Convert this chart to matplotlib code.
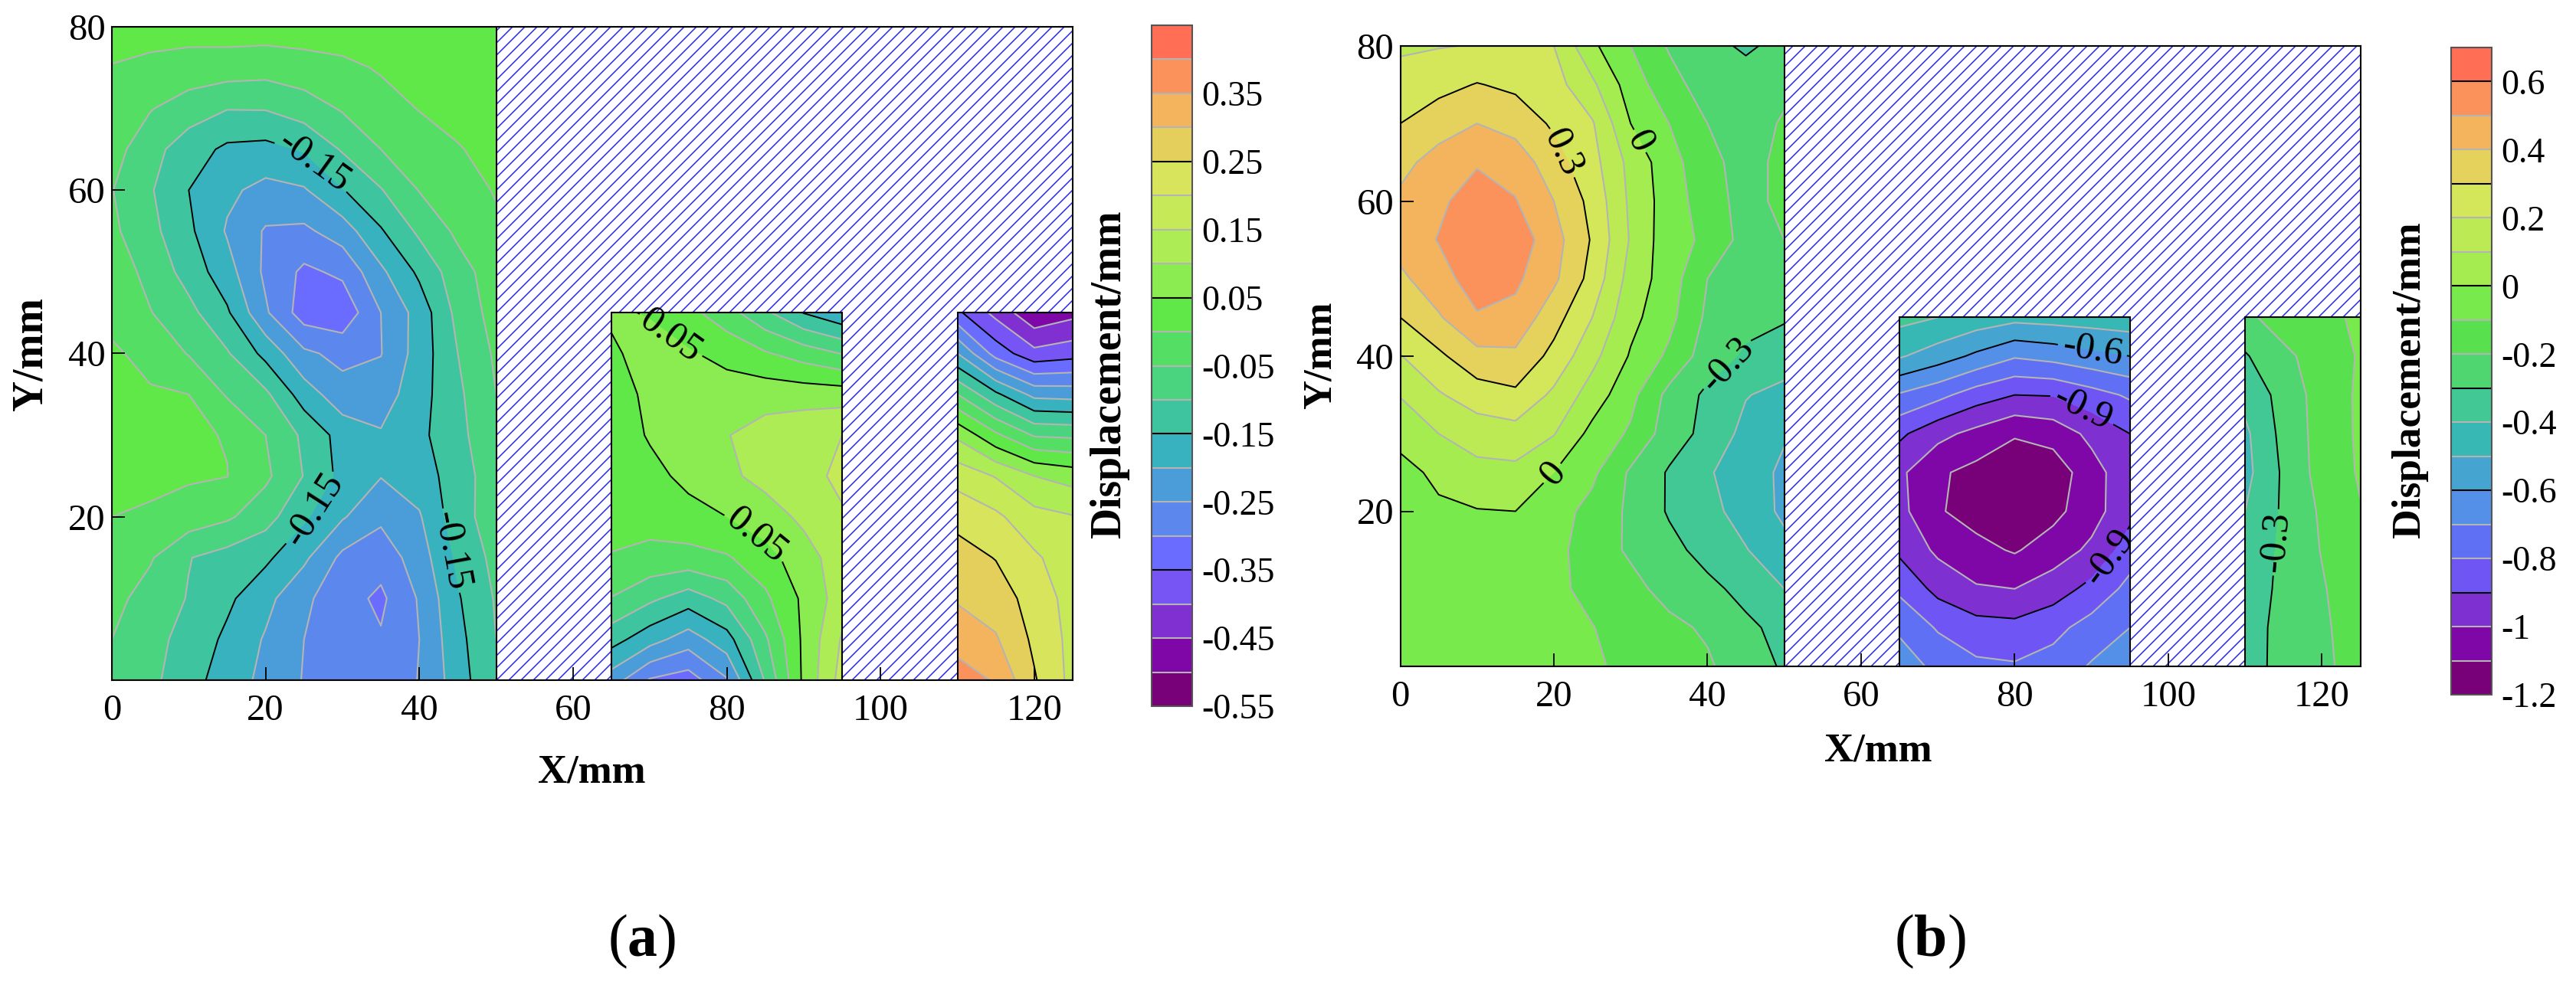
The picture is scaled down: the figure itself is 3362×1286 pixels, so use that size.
import numpy as np
import matplotlib
matplotlib.use("Agg")
import matplotlib.pyplot as plt
from matplotlib.patches import Rectangle

DPI = 96  # hatch tile follows the dpi, this gives the 8 px line spacing
PT = 100 / DPI  # sizes below were measured as points at 100 dpi

plt.rcParams["font.family"] = ["Liberation Serif", "DejaVu Serif"]
plt.rcParams["hatch.linewidth"] = 1.1 * PT
plt.rcParams["hatch.color"] = "#2a2ae6"
plt.rcParams["mathtext.fontset"] = "custom"
plt.rcParams["mathtext.bf"] = "Liberation Serif:bold"
plt.rcParams["mathtext.rm"] = "Liberation Serif"
plt.rcParams["contour.negative_linestyle"] = "solid"

FIG_W, FIG_H = 3362, 1286

# shared grid of the three slab regions, mm
x_left = [0, 5, 10, 15, 20, 25, 30, 35, 40, 45, 50]
y_left = [0, 5, 10, 15, 20, 25, 30, 35, 40, 45, 50, 55, 60, 65, 70, 75, 80]
x_mid = [65, 70, 75, 80, 85, 90, 95]
x_right = [110, 115, 120, 125]
y_low = [0, 5, 10, 15, 20, 25, 30, 35, 40, 45]

# (a) displacement, rows go from y=0 upward
a_left = [
    [-.065, -.088, -.130, -.175, -.213, -.253, -.270, -.280, -.248, -.175, -.100],
    [-.050, -.083, -.118, -.160, -.205, -.250, -.280, -.295, -.250, -.165, -.100],
    [-.035, -.070, -.103, -.140, -.185, -.240, -.280, -.310, -.245, -.155, -.095],
    [-.025, -.045, -.098, -.120, -.140, -.190, -.262, -.280, -.225, -.140, -.085],
    [.000, -.006, -.022, -.042, -.080, -.142, -.195, -.240, -.205, -.120, -.075],
    [.012, .010, .006, .001, -.040, -.102, -.165, -.198, -.175, -.125, -.070],
    [.012, .010, .006, -.002, -.050, -.110, -.170, -.195, -.162, -.115, -.060],
    [.010, .004, .000, -.055, -.090, -.175, -.230, -.225, -.170, -.110, -.050],
    [.006, -.012, -.053, -.095, -.165, -.240, -.265, -.252, -.178, -.100, -.042],
    [-.012, -.048, -.085, -.143, -.243, -.325, -.335, -.250, -.180, -.085, -.030],
    [-.022, -.065, -.120, -.180, -.260, -.310, -.290, -.210, -.140, -.070, -.025],
    [-.040, -.085, -.140, -.205, -.255, -.260, -.225, -.155, -.090, -.040, -.007],
    [-.048, -.095, -.150, -.190, -.215, -.205, -.153, -.103, -.048, -.018, .003],
    [-.030, -.082, -.127, -.160, -.165, -.145, -.095, -.050, -.025, -.003, .015],
    [-.022, -.047, -.075, -.098, -.097, -.075, -.045, -.020, .002, .015, .022],
    [-.002, -.012, -.020, -.025, -.030, -.020, -.012, .005, .015, .020, .025],
    [.020, .020, .020, .025, .025, .025, .030, .030, .030, .030, .030],
]
a_mid = [
    [-.225, -.305, -.325, -.255, -.095, .060, .170],
    [-.130, -.180, -.225, -.170, -.058, .060, .155],
    [-.052, -.090, -.125, -.085, -.010, .060, .125],
    [-.002, -.014, -.017, -.005, .030, .080, .125],
    [.012, .018, .033, .050, .078, .110, .145],
    [.018, .035, .063, .090, .115, .135, .160],
    [.020, .055, .080, .098, .120, .135, .150],
    [.025, .062, .068, .073, .080, .078, .076],
    [.040, .075, .055, .035, .005, -.023, -.052],
    [.060, .045, .015, -.030, -.090, -.152, -.190],
]
a_right = [
    [.375, .345, .255, .185],
    [.330, .305, .240, .185],
    [.295, .275, .230, .180],
    [.270, .248, .208, .170],
    [.235, .210, .167, .153],
    [.180, .147, .100, .080],
    [.090, .010, -.055, -.060],
    [-.050, -.140, -.215, -.220],
    [-.200, -.320, -.385, -.370],
    [-.340, -.415, -.490, -.465],
]

# (b) displacement, same layout
b_left = [
    [-.070, -.070, -.070, -.075, -.080, -.085, -.125, -.155, -.185, -.260, -.310],
    [-.070, -.070, -.070, -.075, -.080, -.097, -.140, -.175, -.215, -.280, -.330],
    [-.070, -.070, -.070, -.070, -.080, -.125, -.170, -.235, -.275, -.330, -.400],
    [-.070, -.055, -.045, -.045, -.070, -.150, -.215, -.270, -.335, -.395, -.470],
    [-.050, -.015, -.005, .000, -.060, -.130, -.220, -.310, -.370, -.440, -.520],
    [-.030, .020, .070, .075, .000, -.080, -.215, -.310, -.390, -.450, -.520],
    [.030, .100, .145, .160, .105, -.030, -.115, -.250, -.330, -.430, -.490],
    [.105, .190, .250, .280, .180, .055, -.070, -.230, -.320, -.395, -.430],
    [.195, .280, .370, .380, .270, .130, -.010, -.120, -.250, -.315, -.350],
    [.300, .390, .490, .470, .340, .200, .030, -.070, -.220, -.270, -.290],
    [.380, .460, .550, .520, .420, .265, .060, -.050, -.200, -.250, -.250],
    [.440, .505, .580, .560, .440, .290, .090, -.060, -.120, -.240, -.200],
    [.420, .480, .550, .505, .400, .270, .080, -.050, -.150, -.240, -.170],
    [.370, .440, .490, .460, .340, .235, .070, -.060, -.170, -.240, -.170],
    [.300, .355, .400, .360, .285, .210, .000, -.100, -.200, -.240, -.190],
    [.240, .270, .305, .280, .240, .120, -.050, -.160, -.250, -.270, -.220],
    [.185, .195, .205, .210, .200, .020, -.100, -.210, -.280, -.310, -.280],
]
b_mid = [
    [-.64, -.73, -.78, -.79, -.76, -.69, -.64],
    [-.72, -.81, -.86, -.87, -.83, -.76, -.70],
    [-.82, -.93, -.99, -1.00, -.95, -.87, -.77],
    [-.92, -1.02, -1.07, -1.11, -1.05, -.98, -.85],
    [-.97, -1.09, -1.14, -1.18, -1.13, -1.04, -.93],
    [-.98, -1.085, -1.13, -1.17, -1.16, -1.04, -.935],
    [-.88, -.97, -1.03, -1.09, -1.06, -.975, -.90],
    [-.71, -.77, -.85, -.90, -.895, -.84, -.785],
    [-.49, -.55, -.62, -.69, -.665, -.63, -.60],
    [-.37, -.40, -.44, -.47, -.46, -.45, -.44],
]
b_right = [
    [-.34, -.27, -.225, -.15],
    [-.35, -.265, -.22, -.14],
    [-.36, -.275, -.21, -.13],
    [-.37, -.28, -.195, -.12],
    [-.40, -.285, -.185, -.105],
    [-.43, -.285, -.16, -.09],
    [-.42, -.27, -.16, -.085],
    [-.37, -.265, -.155, -.085],
    [-.31, -.22, -.16, -.09],
    [-.22, -.16, -.13, -.08],
]

levels_a = np.round(np.arange(-0.55, 0.46, 0.05), 2)
levels_b = np.round(np.arange(-1.2, 0.71, 0.1), 1)
black_a = [-0.35, -0.15, 0.05, 0.25]
black_b = [-0.9, -0.6, -0.3, 0.0, 0.3, 0.6]

colors_a = ["#780078", "#7f07a7", "#8030d0", "#7755f5", "#6a6cff", "#5c88ee", "#4a9dd8",
            "#38b2be", "#3fc4a0", "#4bd480", "#55de64", "#60e848", "#8aec50", "#aeec55",
            "#c6ea57", "#d8e45b", "#e5cf5c", "#f4b45e", "#fb925c", "#ff6e55"]
colors_b = ["#780078", "#7f07a7", "#7f30d0", "#7055f5", "#6070f5", "#5590e8", "#45a5d0",
            "#38b8b5", "#42c895", "#50d670", "#58e04e", "#78ea4c", "#a4ec50", "#bcea55",
            "#d4e65a", "#e4d25c", "#f4b45e", "#fb925c", "#ff6e55"]

ticks_a = [-0.55, -0.45, -0.35, -0.25, -0.15, -0.05, 0.05, 0.15, 0.25, 0.35]
tick_labels_a = ["-0.55", "-0.45", "-0.35", "-0.25", "-0.15", "-0.05", "0.05", "0.15", "0.25", "0.35"]
ticks_b = [-1.2, -1.0, -0.8, -0.6, -0.4, -0.2, 0.0, 0.2, 0.4, 0.6]
tick_labels_b = ["-1.2", "-1", "-0.8", "-0.6", "-0.4", "-0.2", "0", "0.2", "0.4", "0.6"]

# where the black contours carry their labels
labels_a_left = [(25.7, 62.9), (26.0, 21.0), (43.8, 15.8)]
labels_a_mid = [(72.5, 42.0), (83.7, 17.5)]
labels_b_left = [(21.1, 66.2), (30.7, 67.5), (19.9, 24.8), (42.5, 39.0)]
labels_b_mid = [(90.1, 40.7), (89.0, 33.6), (91.9, 14.3)]
labels_b_right = [(113.9, 16.0)]


def px_axes(fig, left, top, right, bottom):
    return fig.add_axes([left / FIG_W, 1 - bottom / FIG_H,
                         (right - left) / FIG_W, (bottom - top) / FIG_H])


def px_text(fig, x, y, s, **kw):
    fig.text(x / FIG_W, 1 - y / FIG_H, s, ha="center", va="center", **kw)


def draw_region(ax, x, y, z, levels, colors, black, manual):
    cf = ax.contourf(x, y, z, levels=levels, colors=colors, zorder=1)
    grey = [v for v in levels if not np.isclose(v, black).any()]
    ax.contour(x, y, z, levels=grey, colors="#b4b4b4", linewidths=1.5 * PT, zorder=2)
    cs = ax.contour(x, y, z, levels=black, colors="black", linewidths=1.4 * PT, zorder=2)
    if manual:
        ax.clabel(cs, fmt="%g", manual=manual, inline=True, inline_spacing=4,
                  fontsize=36 * PT)
    ax.add_patch(Rectangle((x[0], y[0]), x[-1] - x[0], y[-1] - y[0], fill=False,
                           edgecolor="black", linewidth=1.5 * PT, zorder=2.2))
    return cf


def draw_chart(fig, box, bar_box, panels, levels, colors, black, ticks, tick_labels):
    ax = px_axes(fig, *box)
    ax.add_patch(Rectangle((50, 0), 75, 80, facecolor="white", edgecolor="#2a2ae6",
                           hatch="//", linewidth=0, zorder=0.5))
    cf = None
    for x, y, z, manual in panels:
        cf = draw_region(ax, x, y, z, levels, colors, black, manual)
    ax.set_xlim(0, 125)
    ax.set_ylim(0, 80)
    ax.set_xticks([0, 20, 40, 60, 80, 100, 120])
    ax.set_yticks([20, 40, 60, 80])
    ax.set_axisbelow(False)
    ax.tick_params(axis="both", direction="in", length=12 * PT, width=1.3 * PT,
                   labelsize=35 * PT)
    ax.tick_params(axis="x", pad=13 * PT)
    ax.tick_params(axis="y", pad=6 * PT)
    for spine in ax.spines.values():
        spine.set_linewidth(1.5 * PT)

    cax = px_axes(fig, *bar_box)
    cb = fig.colorbar(cf, cax=cax)
    cb.set_ticks(ticks, labels=tick_labels)
    cax.tick_params(length=0, pad=9 * PT, labelsize=33 * PT)
    cax.minorticks_off()
    cb.outline.set_edgecolor("#555555")
    cb.outline.set_linewidth(1.5 * PT)
    inner = levels[1:-1]
    cax.hlines([v for v in inner if not np.isclose(v, black).any()], 0, 1,
               colors="#b4b4b4", linewidth=1.5 * PT)
    cax.hlines([v for v in inner if np.isclose(v, black).any()], 0, 1,
               colors="black", linewidth=1.5 * PT)


fig = plt.figure(figsize=(FIG_W / DPI, FIG_H / DPI), dpi=DPI, facecolor="white")

draw_chart(fig, (146, 35, 1400, 888), (1503, 33, 1556, 922),
           [(x_left, y_left, a_left, labels_a_left),
            (x_mid, y_low, a_mid, labels_a_mid),
            (x_right, y_low, a_right, None)],
           levels_a, colors_a, black_a, ticks_a, tick_labels_a)
draw_chart(fig, (1827.5, 60, 3080.5, 870), (3199, 62, 3252, 907),
           [(x_left, y_left, b_left, labels_b_left),
            (x_mid, y_low, b_mid, labels_b_mid),
            (x_right, y_low, b_right, labels_b_right)],
           levels_b, colors_b, black_b, ticks_b, tick_labels_b)

px_text(fig, 772, 1008, "X/mm", fontsize=38 * PT, fontweight="bold")
px_text(fig, 2451, 981, "X/mm", fontsize=38 * PT, fontweight="bold")
px_text(fig, 41, 462, "Y/mm", rotation=90, fontsize=40 * PT, fontweight="bold")
px_text(fig, 1724, 464, "Y/mm", rotation=90, fontsize=38 * PT, fontweight="bold")
px_text(fig, 1448, 489, "Displacement/mm", rotation=90, fontsize=40 * PT, fontweight="bold")
px_text(fig, 3145, 496, "Displacement/mm", rotation=90, fontsize=38.5 * PT, fontweight="bold")
px_text(fig, 838, 1229, r"($\mathbf{a}$)", fontsize=56 * PT)
px_text(fig, 2519, 1229, r"($\mathbf{b}$)", fontsize=56 * PT)

fig.savefig("out.png", dpi=DPI)
